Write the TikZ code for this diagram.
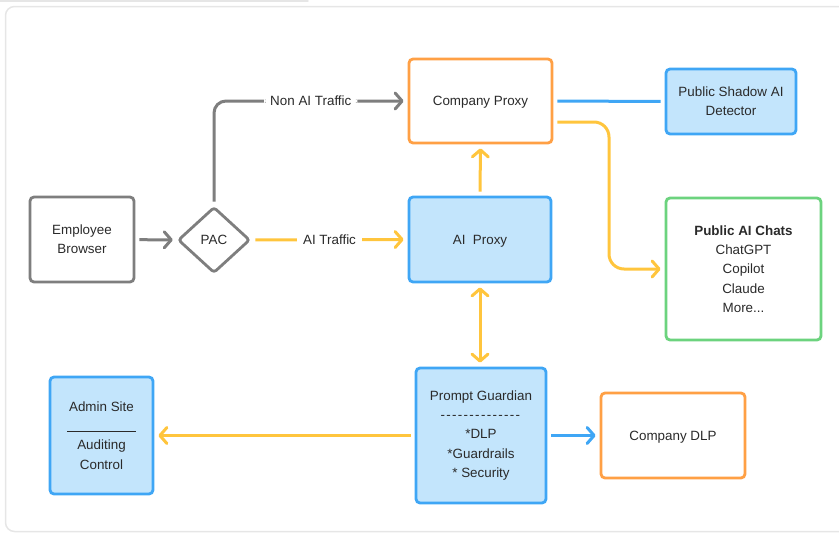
\documentclass[tikz,border=0pt]{standalone}
\usepackage{fontspec}
\newfontfamily\uifont{Liberation Sans}
\usetikzlibrary{arrows.meta,shapes.geometric,calc}
\definecolor{txt}{HTML}{2A2A2A}
\definecolor{grayc}{HTML}{7E7E7E}
\definecolor{orangec}{HTML}{FFA045}
\definecolor{bluec}{HTML}{3FA6F5}
\definecolor{bluefill}{HTML}{C3E5FC}
\definecolor{yellowc}{HTML}{FFC53D}
\definecolor{greenc}{HTML}{6CD37E}
\definecolor{panel}{HTML}{E6E6E6}
\begin{document}
\begin{tikzpicture}[x=1pt,y=-1pt,
  box/.style={draw, line width=2.8pt, rounded corners=4pt, inner sep=0pt, align=center,
    font=\uifont\fontsize{13.4}{19.3}\selectfont, text=txt},
  oneline/.style={text height=9.6pt, text depth=0pt},
  bluebox/.style={box, draw=bluec, fill=bluefill},
  orangebox/.style={box, draw=orangec, fill=white},
  conn/.style={line width=3pt, shorten <=4pt, shorten >=4pt},
  tip/.style={-{Straight Barb[length=7pt,width=16pt,round]}},
  dtip/.style={{Straight Barb[length=7pt,width=16pt,round]}-{Straight Barb[length=7pt,width=16pt,round]}},
  lbl/.style={fill=white, inner xsep=6pt, inner ysep=3pt, oneline, font=\uifont\fontsize{13.4}{16}\selectfont, text=txt}
]
\useasboundingbox (0,0) rectangle (839,533);
\draw[panel, line width=1.5pt, line cap=round] (0,0.8) -- (308,0.8);
\draw[panel, line width=1.5pt, rounded corners=9pt] (5.5,6.5) rectangle (860,531.5);

% nodes
\node[box, draw=grayc, minimum width=104pt, minimum height=85pt] (eb) at (82,239.5) {Employee\\Browser};
\node[box, oneline, draw=grayc, fill=white, shape=diamond, minimum width=72pt, minimum height=66pt, rounded corners=3pt] (pac) at (214,240) {PAC};
\node[orangebox, oneline, minimum width=143pt, minimum height=84pt] (cp) at (480.5,101) {Company Proxy};
\node[bluebox, oneline, minimum width=142pt, minimum height=85pt] (aip) at (480,239.5) {AI\ \ Proxy};
\node[bluebox, minimum width=130pt, minimum height=65pt] (sd) at (731,101.5) {Public Shadow AI\\Detector};
\node[box, draw=greenc, fill=white, minimum width=155pt, minimum height=142pt] (chats) at (743.5,269)
  {\textbf{Public AI Chats}\\ChatGPT\\Copilot\\Claude\\More...};
\node[bluebox, minimum width=130pt, minimum height=135pt] (pg) at (481,435.5)
  {Prompt Guardian\\\foreach \i in {1,...,14}{\mbox{-}\kern1.3pt}\\*DLP\\*Guardrails\\* Security};
\node[orangebox, oneline, minimum width=144pt, minimum height=85pt] (dlp) at (673,435.5) {Company DLP};
\node[bluebox, minimum width=103pt, minimum height=117pt] (admin) at (101.5,435.5)
  {Admin Site\\{\color{txt}\rule[-1.5pt]{69pt}{0.9pt}}\\Auditing\\Control};

% connectors
\draw[conn, tip, grayc] (eb) -- (pac);
\draw[conn, tip, grayc, rounded corners=12pt] (pac.north) |- node[lbl, pos=0.75] {Non AI Traffic} (cp.west);
\draw[conn, tip, yellowc] (pac.east) -- node[lbl] {AI Traffic} (aip.west);
\draw[conn, tip, yellowc] (aip.north) -- (cp.south);
\draw[conn, bluec] (cp.east) -- (sd.west);
\coordinate (cpout) at ([yshift=-21pt]cp.east);
\coordinate (mid) at ($(cp.east)!0.5!(chats.west)$);
\draw[conn, tip, yellowc, rounded corners=15pt] (cpout) -- (cpout -| mid) -- (mid |- chats.west) -- (chats.west);
\draw[conn, dtip, yellowc] (aip.south) -- (aip.south |- pg.north);
\draw[conn, tip, yellowc] (pg.west) -- (pg.west -| admin.east);
\draw[conn, tip, bluec] (pg.east) -- (pg.east -| dlp.west);
\end{tikzpicture}
\end{document}
